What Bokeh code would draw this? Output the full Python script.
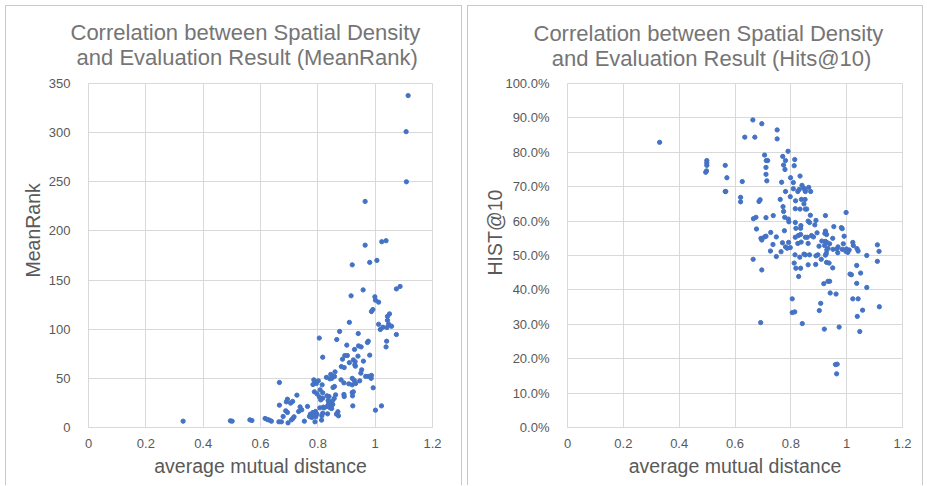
import numpy as np
from bokeh.plotting import figure
from bokeh.models import Range1d, FixedTicker, NumeralTickFormatter, Title, ColumnDataSource
from bokeh.layouts import row
from bokeh.embed import file_html
from bokeh.resources import INLINE

# ---------------- data ----------------
# Panel 1: average mutual distance vs MeanRank
mr_dist = [
    1.115, 1.108, 1.109, 0.965, 0.965, 1.023, 1.038, 0.920, 0.981, 1.006,
    1.074, 1.087, 0.916, 0.958, 0.999, 1.001, 1.012, 0.992, 0.987, 1.050,
    1.043, 0.910, 1.012, 1.043, 1.047, 1.057, 1.027, 1.041, 1.018, 0.876,
    0.941, 1.074, 0.805, 0.866, 0.976, 0.973, 1.040, 1.038, 0.901, 0.942,
    0.951, 0.928, 0.940, 0.981, 0.817, 0.894, 0.903, 0.886, 0.924, 0.930,
    0.910, 0.959, 0.929, 0.882, 0.892, 0.931, 0.953, 0.950, 0.860, 0.845,
    0.830, 0.849, 0.967, 0.977, 0.987, 0.986, 0.920, 0.927, 0.786, 0.881,
    0.802, 0.858, 0.842, 0.891, 0.932, 0.946, 0.920, 0.908, 0.666, 0.791,
    0.783, 0.795, 0.815, 0.858, 0.853, 0.993, 0.808, 0.788, 0.817, 0.920,
    0.924, 0.797, 0.862, 0.891, 0.839, 0.892, 0.921, 0.805, 0.727, 0.817,
    0.832, 0.857, 0.810, 0.836, 0.850, 0.838, 0.845, 0.852, 0.922, 1.022,
    0.694, 0.690, 0.705, 0.712, 0.666, 0.738, 0.764, 0.819, 0.822, 0.832,
    0.843, 0.807, 0.848, 1.001, 0.744, 0.733, 0.688, 0.694, 0.870, 0.792,
    0.783, 0.774, 0.788, 0.797, 0.817, 0.834, 0.865, 0.872, 0.771, 0.779,
    0.793, 0.814, 0.679, 0.717, 0.713, 0.753, 0.790, 0.813, 0.708, 0.664,
    0.673, 0.696, 0.616, 0.624, 0.631, 0.638, 0.563, 0.570, 0.495, 0.501,
    0.330,
]
mr_rank = [
    337.7, 301.0, 250.0, 230.0, 185.5, 189.0, 190.0, 165.5, 168.0, 170.0,
    141.0, 143.5, 134.0, 140.0, 133.0, 129.5, 127.5, 120.0, 118.0, 115.6,
    113.0, 107.0, 105.0, 109.0, 105.0, 103.0, 102.0, 101.7, 99.7, 97.7,
    95.6, 94.6, 91.0, 89.5, 87.8, 86.5, 87.8, 82.0, 83.8, 83.0,
    82.0, 79.4, 72.6, 73.6, 71.5, 73.2, 73.2, 69.5, 68.8, 67.0,
    66.0, 67.5, 63.8, 62.0, 61.0, 62.4, 58.7, 55.3, 56.6, 54.0,
    51.0, 50.0, 52.0, 52.0, 53.0, 50.0, 50.0, 48.0, 48.5, 48.5,
    47.5, 52.0, 49.5, 45.4, 44.8, 47.5, 43.4, 44.4, 45.8, 46.8,
    43.7, 44.8, 43.4, 41.7, 40.7, 40.4, 38.3, 36.3, 35.3, 35.6,
    36.3, 34.3, 33.2, 33.6, 31.5, 31.5, 32.2, 31.2, 32.9, 29.8,
    32.2, 29.5, 28.1, 27.5, 26.8, 24.8, 22.7, 23.4, 22.0, 22.0,
    28.8, 26.1, 24.8, 26.5, 22.7, 21.0, 21.4, 20.7, 20.0, 21.4,
    20.0, 20.0, 19.3, 17.6, 18.0, 16.3, 17.0, 15.3, 16.0, 16.3,
    15.3, 13.6, 14.2, 13.6, 14.6, 13.9, 13.6, 11.9, 11.2, 10.2,
    10.9, 11.9, 11.2, 10.9, 9.2, 6.4, 5.8, 7.5, 7.8, 5.8,
    5.8, 4.7, 9.2, 8.1, 7.5, 6.4, 7.8, 7.1, 6.8, 6.4,
    6.4,
]

# Panel 2: average mutual distance vs Hits@10 (percent)
h_dist = [
    0.330, 0.499, 0.499, 0.499, 0.498, 0.495, 0.565, 0.571, 0.565, 0.567,
    0.664, 0.696, 0.635, 0.671, 0.751, 0.751, 0.790, 0.706, 0.771, 0.814,
    0.712, 0.717, 0.781, 0.774, 0.812, 0.711, 0.779, 0.711, 0.833, 0.799,
    0.626, 0.714, 0.767, 0.809, 0.840, 0.864, 0.846, 0.809, 0.851, 0.852,
    0.871, 0.825, 0.781, 0.830, 0.798, 0.620, 0.620, 0.690, 0.686, 0.762,
    0.838, 0.851, 0.817, 0.847, 0.772, 0.816, 0.833, 0.852, 0.857, 0.774,
    0.998, 0.870, 0.924, 0.737, 0.778, 0.675, 0.666, 0.711, 0.791, 0.890,
    0.793, 0.862, 0.867, 0.816, 0.886, 0.836, 0.954, 0.981, 0.984, 0.677,
    0.818, 0.835, 0.924, 0.777, 0.922, 0.894, 0.728, 0.928, 0.827, 0.835,
    0.991, 0.706, 0.711, 0.748, 0.874, 0.881, 0.852, 0.859, 0.816, 0.950,
    0.693, 0.696, 1.022, 0.911, 0.924, 0.929, 0.837, 0.862, 0.770, 0.792,
    0.825, 1.110, 0.988, 1.024, 0.939, 0.921, 0.901, 0.969, 0.736, 0.781,
    0.787, 0.798, 0.951, 0.965, 0.984, 0.999, 1.009, 1.037, 0.933, 0.929,
    0.727, 1.116, 1.041, 0.997, 1.004, 0.968, 0.927, 0.924, 0.867, 0.847,
    0.852, 0.815, 0.765, 0.897, 0.890, 1.072, 0.832, 0.748, 0.665, 0.909,
    1.110, 0.928, 0.937, 0.812, 0.862, 0.889, 1.036, 0.950, 0.818, 0.835,
    0.696, 1.050, 1.012, 1.017, 0.828, 0.933, 0.939, 0.918, 1.036, 1.072,
    0.941, 0.962, 0.805, 1.022, 1.041, 0.907, 1.117, 1.057, 0.902, 0.805,
    0.814, 1.038, 0.692, 0.841, 0.973, 0.920, 1.047, 0.960, 0.966, 0.964,
]
h_hits_pct = [
    82.9, 77.6, 76.9, 76.2, 74.6, 74.2, 76.2, 72.6, 68.6, 68.6,
    89.4, 88.3, 84.4, 84.4, 86.5, 83.9, 80.3, 79.2, 78.8, 77.9,
    77.6, 77.6, 77.6, 76.3, 76.1, 75.6, 75.0, 73.6, 73.1, 72.6,
    71.5, 71.7, 71.3, 71.2, 70.4, 69.8, 69.6, 69.4, 69.0, 68.6,
    68.6, 68.6, 68.6, 69.2, 67.1, 66.9, 65.6, 66.2, 65.7, 66.3,
    66.3, 66.3, 65.9, 65.0, 64.2, 63.6, 63.5, 63.5, 63.5, 62.8,
    62.5, 61.7, 61.6, 61.6, 61.1, 61.1, 60.7, 61.0, 60.6, 60.2,
    59.8, 60.0, 59.6, 59.6, 58.9, 58.7, 58.4, 58.1, 57.8, 57.7,
    57.9, 57.9, 57.1, 57.2, 56.4, 56.6, 56.7, 56.1, 55.8, 56.1,
    55.6, 55.4, 55.6, 55.4, 55.8, 55.4, 55.3, 55.3, 55.3, 55.0,
    55.0, 54.5, 53.8, 54.2, 54.1, 53.8, 53.9, 53.5, 53.7, 53.8,
    53.5, 53.1, 53.4, 52.9, 53.4, 52.9, 52.7, 52.5, 53.2, 52.5,
    52.1, 52.3, 51.8, 51.9, 51.8, 51.9, 51.6, 52.0, 52.1, 51.6,
    51.3, 51.2, 51.3, 51.2, 50.9, 50.8, 50.6, 50.1, 50.2, 50.4,
    50.2, 50.2, 51.1, 50.2, 49.9, 50.0, 49.5, 49.7, 48.9, 48.9,
    48.3, 48.0, 47.8, 47.8, 47.3, 47.4, 47.1, 46.4, 46.3, 46.3,
    45.8, 44.9, 44.6, 44.4, 43.9, 42.5, 42.5, 41.8, 41.9, 40.7,
    39.1, 38.8, 37.4, 37.4, 37.4, 36.1, 35.1, 34.1, 34.0, 33.4,
    33.6, 32.3, 30.5, 30.2, 29.2, 28.6, 27.9, 18.3, 18.4, 15.6,
]

x_ticks = [0, 0.2, 0.4, 0.6, 0.8, 1.0, 1.2]
mr_ticks = [0, 50, 100, 150, 200, 250, 300, 350]
hit_ticks = [0, 0.1, 0.2, 0.3, 0.4, 0.5, 0.6, 0.7, 0.8, 0.9, 1.0]

titles1 = ["Correlation between Spatial Density", "and Evaluation Result (MeanRank)"]
titles2 = ["Correlation between Spatial Density", "and Evaluation Result (Hits@10)"]
x_label = "average mutual distance"
y_label1 = "MeanRank"
y_label2 = "HIST@10"

# ---------------- style ----------------
FONT = "Liberation Sans"
GRID = "#d9d9d9"
PANEL_BORDER = "#c9c9c9"
TITLE_COLOR = "#757575"
TEXT_COLOR = "#595959"
DOT = "#4472C4"
NBSP = "\u00a0"

_line = f"linear-gradient({PANEL_BORDER},{PANEL_BORDER})"
PANEL_STYLES = {
    "border-left": "1px solid transparent",
    "border-right": "1px solid transparent",
    "background": (f"{_line} left 0 top 5px / 100% 1px no-repeat border-box, "
                   f"{_line} left 0 top 5px / 1px 100% no-repeat border-box, "
                   f"{_line} right 0 top 5px / 1px 100% no-repeat border-box, white"),
}


def make_panel(w, h, bl, br, bt, bb, xs, ys, yticks, yfmt, ymax, titles,
               title_offset, line2_indent, title_standoff,
               ylab, ylab_offset, ylab_standoff, margin):
    p = figure(width=w, height=h, output_backend="svg", toolbar_location=None,
               x_range=Range1d(0, 1.2), y_range=Range1d(0, ymax),
               min_border_left=bl, min_border_right=br,
               min_border_top=bt, min_border_bottom=bb,
               background_fill_color="white", border_fill_color=None,
               outline_line_color=GRID, margin=margin)
    p.styles = dict(PANEL_STYLES)
    src = ColumnDataSource(dict(x=xs, y=ys))
    p.scatter("x", "y", source=src, size=4.3, color=DOT, line_color=DOT)

    for ax in (p.xaxis[0], p.yaxis[0]):
        ax.axis_line_color = GRID
        ax.major_tick_line_color = None
        ax.minor_tick_line_color = None
        ax.major_label_text_font = FONT
        ax.major_label_text_font_size = "13px"
        ax.major_label_text_color = TEXT_COLOR
        ax.axis_label_text_font = FONT
        ax.axis_label_text_font_size = "19.5px"
        ax.axis_label_text_font_style = "normal"
        ax.axis_label_text_color = TEXT_COLOR
    p.xaxis[0].ticker = FixedTicker(ticks=x_ticks)
    p.xaxis[0].formatter = NumeralTickFormatter(format="0.[0]")
    p.xaxis[0].major_label_standoff = 5
    p.xaxis[0].axis_label = x_label
    p.xaxis[0].axis_label_standoff = 4
    p.yaxis[0].ticker = FixedTicker(ticks=yticks)
    p.yaxis[0].formatter = NumeralTickFormatter(format=yfmt)
    p.yaxis[0].major_label_standoff = 12

    # y-axis title as a vertical Title so that it can sit above centre
    p.add_layout(Title(text=ylab, align="left", offset=ylab_offset,
                       standoff=ylab_standoff, text_font=FONT, text_font_size="19.5px",
                       text_font_style="normal", text_color=TEXT_COLOR), "left")

    p.xgrid.grid_line_color = GRID
    p.ygrid.grid_line_color = GRID
    p.xgrid.ticker = FixedTicker(ticks=x_ticks)
    p.ygrid.ticker = FixedTicker(ticks=yticks)

    # two-line chart title; second line indented with no-break spaces
    p.add_layout(Title(text=titles[0] + "\n" + NBSP * line2_indent + titles[1],
                       align="left", offset=title_offset,
                       standoff=title_standoff, text_line_height=1.0,
                       text_font=FONT, text_font_size="22px",
                       text_font_style="normal", text_color=TITLE_COLOR), "above")
    return p


p1 = make_panel(457, 485, 82, 31, 83, 58, mr_dist, mr_rank, mr_ticks, "0", 350,
                titles1, -18, 1, 28, y_label1, 150, 3, (0, 0, 0, 5))
hits = list(np.array(h_hits_pct) / 100.0)
p2 = make_panel(456, 485, 99, 22, 81, 57, h_dist, hits, hit_ticks, "0.0%", 1.0,
                titles2, -34, 3, 26, y_label2, 152, -7, (0, 0, 0, 5))

layout = row(p1, p2)
open("out.html", "w").write(file_html(layout, INLINE))
